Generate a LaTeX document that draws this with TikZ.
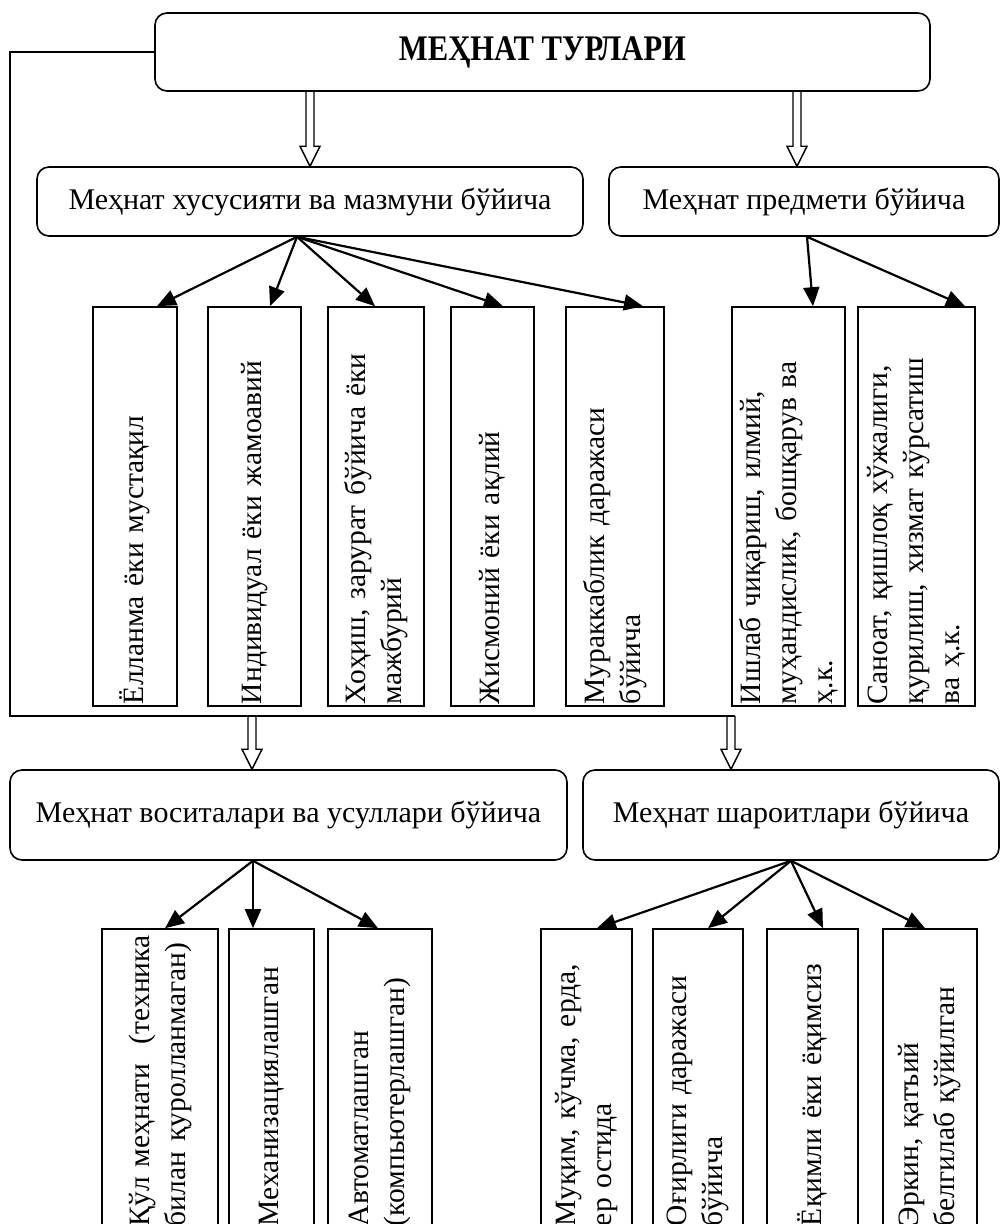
\documentclass[tikz,border=0pt]{standalone}
\usepackage{fontspec}
\setmainfont{Liberation Serif}
\usetikzlibrary{calc,arrows.meta}

\begin{document}
\begin{tikzpicture}[x=1pt, y=-1pt,
    font=\fontsize{30}{35}\selectfont,
    rbox/.style={draw, line width=1.6pt, rounded corners=12pt, inner sep=0pt},
    vbox/.style={draw, line width=1.6pt, rotate=90, inner xsep=2pt, inner ysep=0pt, align=left,
        font=\fontsize{29.5}{36}\selectfont},
    arr/.style={line width=2.2pt, -{Triangle[length=19pt, width=16pt]}},
    hollow/.style={line width=1.4pt, line join=miter, to path={let \p1=(\tikztostart), \p2=(\tikztotarget) in
        (\x1-4pt,\y1) -- (\x1-4pt,\y2+20pt) -- (\x1-10pt,\y2+20pt) -- (\x1,\y2)
        -- (\x1+10pt,\y2+20pt) -- (\x1+4pt,\y2+20pt) -- (\x1+4pt,\y1)}}]
    \useasboundingbox (0,0) rectangle (1001,1224);

    \node[rbox, minimum width=775pt, minimum height=78pt, font=\fontsize{36}{40}\selectfont\bfseries] (top) at (542.5,52) {\scalebox{0.85}[1]{МЕҲНАТ ТУРЛАРИ}};
    \node[rbox, minimum width=546pt, minimum height=69pt] (hus) at (310,201.5) {Меҳнат хусусияти ва мазмуни бўйича};
    \node[rbox, minimum width=390pt, minimum height=69pt] (pred) at (804,201.5) {Меҳнат предмети бўйича};
    \node[rbox, minimum width=557pt, minimum height=90pt] (vos) at (288.5,815) {Меҳнат воситалари ва усуллари бўйича};
    \node[rbox, minimum width=416pt, minimum height=90pt] (sha) at (791,815) {Меҳнат шароитлари бўйича};

    \node[vbox, text width=395pt, minimum width=399pt, minimum height=84pt] (b1) at (135,506.5) {Ёлланма ёки мустақил};
    \node[vbox, text width=395pt, minimum width=399pt, minimum height=93pt] (b2) at (254.5,506.5) {Индивидуал ёки жамоавий};
    \node[vbox, text width=395pt, minimum width=399pt, minimum height=96pt] (b3) at (376,506.5) {Хоҳиш, зарурат бўйича ёки\\мажбурий};
    \node[vbox, text width=395pt, minimum width=399pt, minimum height=83pt] (b4) at (492.5,506.5) {Жисмоний ёки ақлий};
    \node[vbox, text width=395pt, minimum width=399pt, minimum height=98pt] (b5) at (615,506.5) {Мураккаблик даражаси\\бўйича};
    \node[vbox, text width=395pt, minimum width=399pt, minimum height=113pt] (b6) at (788.5,506.5) {Ишлаб чиқариш, илмий,\\муҳандислик, бошқарув ва\\ҳ.к.};
    \node[vbox, text width=395pt, minimum width=399pt, minimum height=117pt] (b7) at (916.5,506.5) {Саноат, қишлоқ хўжалиги,\\қурилиш, хизмат кўрсатиш\\ва ҳ.к.};

    \node[vbox, text width=295pt, minimum width=299pt, minimum height=116pt] (c1) at (160,1078.5) {Қўл меҳнати\ \ (техника\\билан қуролланмаган)};
    \node[vbox, text width=295pt, minimum width=299pt, minimum height=85pt] (c2) at (271.5,1078.5) {Механизациялашган};
    \node[vbox, text width=295pt, minimum width=299pt, minimum height=104pt] (c3) at (380,1078.5) {Автоматлашган\\(компьютерлашган)};
    \node[vbox, text width=295pt, minimum width=299pt, minimum height=91pt] (d1) at (586.5,1078.5) {Муқим, кўчма, ерда,\\ер остида};
    \node[vbox, text width=295pt, minimum width=299pt, minimum height=90pt] (d2) at (698,1078.5) {Оғирлиги даражаси\\бўйича};
    \node[vbox, text width=295pt, minimum width=299pt, minimum height=91pt] (d3) at (812.5,1078.5) {Ёқимли ёки ёқимсиз};
    \node[vbox, text width=295pt, minimum width=299pt, minimum height=94pt] (d4) at (930,1078.5) {Эркин, қатъий\\белгилаб қўйилган};

    \coordinate (pa) at ([xshift=-7pt]pred.north);
    \coordinate (va) at ([xshift=-36.5pt]vos.north);
    \coordinate (sa) at ([xshift=-60pt]sha.north);
    \coordinate (bend) at (10,716);
    \coordinate (loopend) at (735,716);
    \draw[line width=1.6pt] (top.west) -| (bend) -- (loopend);
    \draw[hollow] (top.south -| hus.north) to (hus.north);
    \draw[hollow] (top.south -| pa) to (pa);
    \draw[hollow] (bend -| va) to (va);
    \draw[hollow] (bend -| sa) to (sa);

    \coordinate (hs) at ([xshift=-13pt]hus.south);
    \coordinate (ps) at ([xshift=3pt]pred.south);
    \coordinate (vs) at ([xshift=-35.5pt]vos.south);
    \coordinate (ss) at (sha.south);
    \foreach \b/\s in {b1/22,b2/15.5,b3/-1,b4/10.5,b5/28}
        \draw[arr] (hs) -- ([xshift=\s pt]\b.east);
    \foreach \b/\s in {b6/24.5,b7/48.5}
        \draw[arr] (ps) -- ([xshift=\s pt]\b.east);
    \foreach \b/\s in {c1/5,c2/-18.5,c3/-2}
        \draw[arr] (vs) -- ([xshift=\s pt]\b.east);
    \foreach \b/\s in {d1/10.5,d2/10,d3/10.5,d4/-5}
        \draw[arr] (ss) -- ([xshift=\s pt]\b.east);
\end{tikzpicture}
\end{document}
